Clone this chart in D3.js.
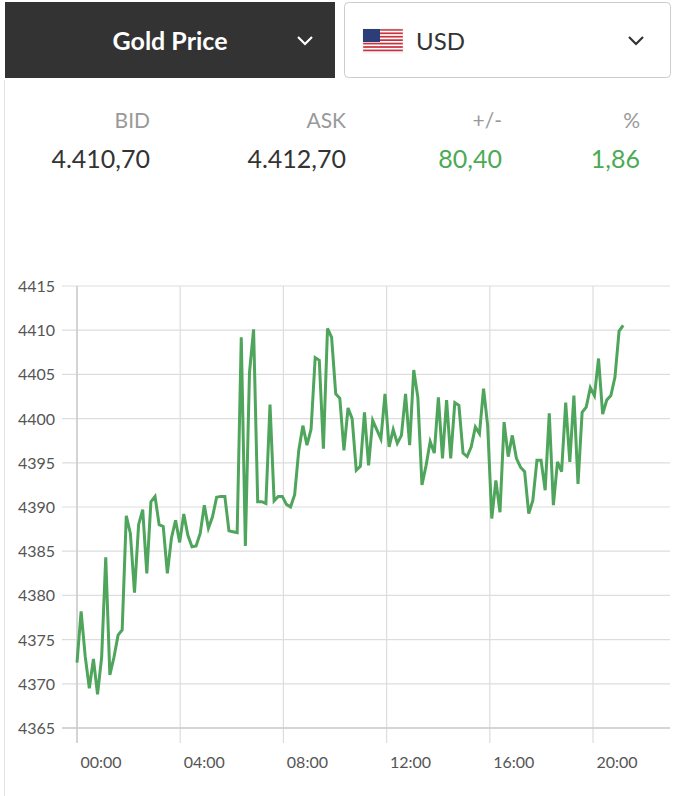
<!DOCTYPE html>
<html><head><meta charset="utf-8">
<script src="https://d3js.org/d3.v7.min.js"></script>
<style>body{margin:0;background:#fff;font-family:Lato,"Open Sans",sans-serif}</style>
</head><body><svg id="c" width="674" height="796"></svg>
<script>
const statLabels = ["BID","ASK","+/-","%"];
const statValues = ["4.410,70","4.412,70","80,40","1,86"];
const yTicks = [4365,4370,4375,4380,4385,4390,4395,4400,4405,4410,4415];
const xTickHours = [0,4,8,12,16,20];
const prices = [4372.4,4378.2,4373.1,4369.5,4372.8,4368.8,4373,4384.3,4371,4373,4375.5,4376.1,4389,4387,4380.3,4388,4389.7,4382.5,4390.6,4391.2,4388,4387.8,4382.5,4386.5,4388.5,4386,4389.2,4386.8,4385.5,4385.6,4387,4390.2,4387.6,4388.9,4391.1,4391.2,4391.2,4387.3,4387.2,4387.1,4409.2,4385.6,4405.2,4410.1,4390.6,4390.6,4390.4,4401.6,4390.7,4391.2,4391.2,4390.3,4390,4391.4,4396.4,4399.2,4397,4398.8,4406.9,4406.6,4396.6,4410.2,4409.2,4402.8,
4402.3,4396.4,4401.2,4400,4394.15,4394.6,4400.7,4394.7,4399.8,4398.75,4397.7,4402.8,4396.8,4398.75,4397.2,4398.1,4402.8,4397,4405.5,4402.4,4392.5,4394.7,4397.4,4396.1,4402.4,4395.5,4402.1,4395.5,4401.8,4401.5,4396.1,4395.7,4396.8,4399.05,4398.3,4403.4,4399.2,4388.7,4393,4389.4,4399.6,4395.7,4398.1,4395.5,4394.5,4394,4389.25,4390.75,4395.3,4395.3,4391.9,4400.6,4390.2,4395.1,4394,4401.8,4395.1,4402.6,4392.6,4400.7,4401.3,4403.5,4402.6,4406.8,4400.5,4402.1,4402.6,4404.7,4409.9,4410.55];
const lastHour = 21.17;

const svg = d3.select("#c");
// header
svg.append("rect").attr("x",5).attr("y",2).attr("width",330).attr("height",76).attr("fill","#333");
svg.append("text").attr("x",170).attr("y",50).attr("text-anchor","middle").attr("fill","#fff")
  .attr("font-size",25).attr("font-weight",700).text("Gold Price");
svg.append("path").attr("d","M298,37 L305,44 L312,37").attr("fill","none").attr("stroke","#fff").attr("stroke-width",2.2);
svg.append("rect").attr("x",344.5).attr("y",2.5).attr("width",326).attr("height",75).attr("rx",4).attr("fill","#fff").attr("stroke","#ccc");
// flag
const fg = svg.append("g").attr("transform","translate(363,29)");
for(let i=0;i<7;i++) fg.append("rect").attr("x",0).attr("y",i*(24/7)).attr("width",40).attr("height",12/7).attr("fill","#c8313e");
fg.append("rect").attr("x",0).attr("y",0).attr("width",40).attr("height",24).attr("fill","none").attr("stroke","#ddd").attr("stroke-width",0.5);
fg.append("rect").attr("width",17).attr("height",13).attr("fill","#2c3e7a");
svg.append("text").attr("x",416).attr("y",50).attr("fill","#333").attr("font-size",24).text("USD");
svg.append("path").attr("d","M629,37 L636,44 L643,37").attr("fill","none").attr("stroke","#333").attr("stroke-width",2.2);
// stats
const statX = [150,346,502,640];
statLabels.forEach((l,i)=>{
  svg.append("text").attr("x",statX[i]).attr("y",128).attr("text-anchor","end").attr("fill","#999").attr("font-size",21).text(l);
  svg.append("text").attr("x",statX[i]).attr("y",168).attr("text-anchor","end").attr("fill",i<2?"#333":"#4caa55").attr("font-size",25).text(statValues[i]);
});
// panel border
svg.append("line").attr("x1",4.5).attr("x2",4.5).attr("y1",80).attr("y2",796).attr("stroke","#e3e3e3");

const x = d3.scaleLinear().domain([0,20]).range([77,593]);
const y = d3.scaleLinear().domain([4365,4415]).range([728,286]);
const g = svg.append("g");
yTicks.forEach(v=>{
  g.append("line").attr("x1",62).attr("x2",670).attr("y1",y(v)).attr("y2",y(v)).attr("stroke","#ddd").attr("stroke-width",1.2);
  g.append("text").attr("x",55).attr("y",y(v)+6).attr("text-anchor","end").attr("fill","#555").attr("font-size",16).text(v);
});
xTickHours.forEach(h=>{
  g.append("line").attr("x1",x(h)).attr("x2",x(h)).attr("y1",286).attr("y2",743).attr("stroke","#ddd").attr("stroke-width",1.2);
  g.append("text").attr("x",x(h)+24).attr("y",768).attr("text-anchor","middle").attr("fill","#555").attr("font-size",16)
   .text(String(h).padStart(2,"0")+":00");
});
g.append("line").attr("x1",62).attr("x2",670).attr("y1",728).attr("y2",728).attr("stroke","#ccc").attr("stroke-width",1.5);
g.append("line").attr("x1",77).attr("x2",77).attr("y1",286).attr("y2",743).attr("stroke","#ccc").attr("stroke-width",1.5);
const step = lastHour/(prices.length-1);
const line = d3.line().x((d,i)=>x(i*step)).y(d=>y(d));
g.append("path").datum(prices).attr("d",line).attr("fill","none").attr("stroke","#4ea55b").attr("stroke-width",3).attr("stroke-linejoin","miter");
</script></body></html>
